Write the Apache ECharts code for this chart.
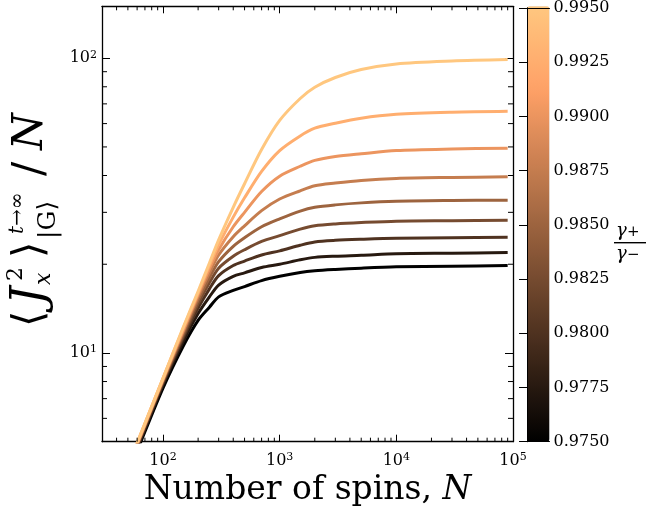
<!DOCTYPE html>
<html><head><meta charset="utf-8">
<script src="https://cdn.jsdelivr.net/npm/echarts@6/dist/echarts.min.js"></script>
<style>html,body{margin:0;padding:0;background:#fff}#c{width:646px;height:518px}</style>
</head><body><div id="c"></div>
<script>
// ---- data ----
const spinCounts = [40, 60, 100, 150, 200, 250, 300, 400, 500, 700, 1000, 1500, 2000, 3000, 5000, 10000, 30000, 90000];
const gammaRatios = [0.9750, 0.9775, 0.9800, 0.9825, 0.9850, 0.9875, 0.9900, 0.9925, 0.9950];
const jx2_09750 = [3.15, 4.65, 7.6, 10.6, 12.9, 14.3, 15.5, 16.3, 16.8, 17.6, 18.2, 18.75, 19.0, 19.2, 19.4, 19.6, 19.7, 19.8];
const jx2_09775 = [3.25, 4.75, 7.8, 11.0, 13.6, 15.5, 17.0, 18.2, 18.7, 19.5, 20.0, 20.7, 21.1, 21.3, 21.45, 21.7, 21.8, 21.9];
const jx2_09800 = [3.28, 4.8, 7.9, 11.3, 14.2, 16.5, 18.3, 19.8, 20.5, 21.5, 22.2, 23.2, 23.8, 24.1, 24.3, 24.5, 24.6, 24.7];
const jx2_09825 = [3.3, 4.85, 8.0, 11.5, 14.7, 17.3, 19.4, 21.3, 22.4, 23.9, 25.0, 26.3, 27.0, 27.4, 27.7, 28.0, 28.1, 28.2];
const jx2_09850 = [3.3, 4.9, 8.05, 11.7, 15.1, 18.0, 20.4, 23.0, 24.6, 26.8, 28.5, 30.3, 31.2, 31.8, 32.3, 32.7, 32.9, 33.0];
const jx2_09875 = [3.3, 4.9, 8.1, 11.9, 15.5, 18.7, 21.5, 24.8, 27.0, 30.4, 33.3, 35.5, 36.9, 37.7, 38.5, 39.1, 39.4, 39.6];
const jx2_09900 = [3.3, 4.9, 8.15, 12.0, 15.8, 19.3, 22.4, 26.8, 30.0, 35.3, 39.8, 43.0, 45.0, 46.4, 47.4, 48.6, 49.2, 49.5];
const jx2_09925 = [3.3, 4.95, 8.2, 12.2, 16.0, 19.8, 23.3, 28.9, 33.6, 41.3, 48.6, 54.5, 57.9, 60.2, 62.6, 64.5, 65.6, 66.1];
const jx2_09950 = [3.3, 4.95, 8.2, 12.3, 16.2, 20.2, 24.2, 31.2, 37.5, 49.0, 61.5, 73.0, 79.7, 86.0, 91.5, 95.6, 97.8, 98.9];
const curves = [jx2_09750, jx2_09775, jx2_09800, jx2_09825, jx2_09850, jx2_09875, jx2_09900, jx2_09925, jx2_09950];
const xMinorTicks = [40, 50, 60, 70, 80, 90, 200, 300, 400, 500, 600, 700, 800, 900,
  2000, 3000, 4000, 5000, 6000, 7000, 8000, 9000, 20000, 30000, 40000, 50000, 60000, 70000, 80000, 90000];
const yMinorTicks = [6, 7, 8, 9, 20, 30, 40, 50, 60, 70, 80, 90];
const colorbarTicks = [0.9750, 0.9775, 0.9800, 0.9825, 0.9850, 0.9875, 0.9900, 0.9925, 0.9950];

// ---- styling helpers ----
const SERIF = '"DejaVu Serif", "DejaVu Sans", serif';
const gMin = colorbarTicks[0], gMax = colorbarTicks[colorbarTicks.length - 1];
function copper(t) {
  t = Math.max(0, Math.min(1, t));
  const r = Math.min(1, t / 0.809524), g = 0.7812 * t, b = 0.4975 * t;
  return 'rgb(' + Math.round(r * 255) + ',' + Math.round(g * 255) + ',' + Math.round(b * 255) + ')';
}
const copperStops = [];
for (let i = 0; i <= 40; i++) copperStops.push(copper(i / 40));

function pow10Label(v) {
  const e = Math.log10(v);
  if (Math.abs(e - Math.round(e)) > 1e-6) return '';
  return '{b|10}{s|' + Math.round(e) + '}';
}
const powRich = {
  b: { fontSize: 16, fontFamily: SERIF, color: '#000', lineHeight: 18 },
  s: { fontSize: 11, fontFamily: SERIF, color: '#000', verticalAlign: 'top', lineHeight: 11 }
};

function minorX(params, api) {
  const cs = params.coordSys;
  const x = api.coord([api.value(0), 10])[0];
  const yb = cs.y + cs.height, yt = cs.y;
  return { type: 'group', children: [
    { type: 'line', shape: { x1: x, y1: yb, x2: x, y2: yb - 4 }, style: { stroke: '#000', lineWidth: 1 } },
    { type: 'line', shape: { x1: x, y1: yt, x2: x, y2: yt + 4 }, style: { stroke: '#000', lineWidth: 1 } }
  ] };
}
function minorY(params, api) {
  const cs = params.coordSys;
  const y = api.coord([1000, api.value(1)])[1];
  const xl = cs.x, xr = cs.x + cs.width;
  return { type: 'group', children: [
    { type: 'line', shape: { x1: xl, y1: y, x2: xl + 5, y2: y }, style: { stroke: '#000', lineWidth: 1 } },
    { type: 'line', shape: { x1: xr, y1: y, x2: xr - 5, y2: y }, style: { stroke: '#000', lineWidth: 1 } }
  ] };
}

const frameLine = { show: true, lineStyle: { color: '#000', width: 1.3 } };
const series = curves.map((vals, i) => ({
  type: 'line', name: String(gammaRatios[i]), xAxisIndex: 0, yAxisIndex: 0,
  data: spinCounts.map((n, j) => [n, vals[j]]),
  showSymbol: false, symbol: 'none', clip: true, z: 3 + i,
  smooth: 0.3,
  lineStyle: { color: copper((gammaRatios[i] - gMin) / (gMax - gMin)), width: 3, cap: 'butt', join: 'round' }
}));
series.push({
  type: 'custom', xAxisIndex: 0, yAxisIndex: 0, silent: true, z: 20,
  data: xMinorTicks.map(v => [v, 10]), renderItem: minorX
});
series.push({
  type: 'custom', xAxisIndex: 0, yAxisIndex: 0, silent: true, z: 20,
  data: yMinorTicks.map(v => [1000, v]), renderItem: minorY
});

const option = {
  animation: false,
  backgroundColor: '#fff',
  grid: [
    { left: 102, top: 6.3, right: 133, bottom: 76.3 },
    { left: 527, top: 6.3, width: 22.5, bottom: 76.3 }
  ],
  xAxis: [
    { type: 'log', logBase: 10, gridIndex: 0, position: 'bottom', min: 30, max: 100000,
      axisLine: frameLine, splitLine: { show: false },
      axisTick: { inside: true, length: 7, lineStyle: { color: '#000', width: 1 } },
      axisLabel: { formatter: pow10Label, rich: powRich, margin: 10, showMinLabel: false },
      name: '{r|Number of spins, }{i|N}', nameLocation: 'middle', nameGap: 31,
      nameTextStyle: { rich: {
        r: { fontSize: 33, fontFamily: SERIF, color: '#000' },
        i: { fontSize: 33, fontFamily: SERIF, fontStyle: 'italic', color: '#000' } } } },
    { type: 'log', logBase: 10, gridIndex: 0, position: 'top', min: 30, max: 100000,
      axisLine: frameLine, splitLine: { show: false },
      axisTick: { inside: true, length: 7, lineStyle: { color: '#000', width: 1 } },
      axisLabel: { show: false } },
    { type: 'value', gridIndex: 1, position: 'bottom', min: 0, max: 1, z: 10,
      axisLine: { show: true, lineStyle: { color: '#000', width: 1 } },
      axisTick: { show: false }, axisLabel: { show: false }, splitLine: { show: false } },
    { type: 'value', gridIndex: 1, position: 'top', min: 0, max: 1, z: 10,
      axisLine: { show: true, lineStyle: { color: '#000', width: 1 } },
      axisTick: { show: false }, axisLabel: { show: false }, splitLine: { show: false } }
  ],
  yAxis: [
    { type: 'log', logBase: 10, gridIndex: 0, position: 'left', min: 5, max: 150,
      axisLine: frameLine, splitLine: { show: false },
      axisTick: { inside: true, length: 8, lineStyle: { color: '#000', width: 1 } },
      axisLabel: { formatter: pow10Label, rich: powRich, margin: 5, showMinLabel: false, showMaxLabel: false } },
    { type: 'log', logBase: 10, gridIndex: 0, position: 'right', min: 5, max: 150,
      axisLine: frameLine, splitLine: { show: false },
      axisTick: { inside: true, length: 8, lineStyle: { color: '#000', width: 1 } },
      axisLabel: { show: false } },
    { type: 'value', gridIndex: 1, position: 'right', min: gMin, max: gMax, interval: 0.0025, z: 10,
      axisLine: { show: true, lineStyle: { color: '#000', width: 1 } },
      axisTick: { inside: true, length: 8, lineStyle: { color: '#000', width: 1 } },
      axisLabel: { margin: 4, formatter: v => v.toFixed(4), fontSize: 16, fontFamily: SERIF, color: '#000' },
      splitLine: { show: false } },
    { type: 'value', gridIndex: 1, position: 'left', min: gMin, max: gMax, z: 10,
      axisLine: { show: true, lineStyle: { color: '#000', width: 1 } },
      axisTick: { show: false }, axisLabel: { show: false }, splitLine: { show: false } }
  ],
  visualMap: {
    type: 'continuous', min: gMin, max: gMax, seriesIndex: [], orient: 'vertical',
    left: 527, top: 6.3, itemWidth: 22.5, itemHeight: 435.4, padding: 0,
    calculable: false, hoverLink: false, realtime: false, text: null, showLabel: false,
    inRange: { color: copperStops }, z: 4
  },
  graphic: [
    { type: 'group', x: 47, y: 327, rotation: Math.PI / 2, silent: true, children: [
      { type: 'text', x: 0, y: -16, style: { text: '\u27E8', font: '42px ' + SERIF, fill: '#000', verticalAlign: 'middle' } },
      { type: 'text', x: 22, y: -16, style: { text: 'J', font: 'italic 46px ' + SERIF, fill: '#000', verticalAlign: 'middle' } },
      { type: 'text', x: 46, y: -31, style: { text: '2', font: '22px ' + SERIF, fill: '#000', verticalAlign: 'middle' } },
      { type: 'text', x: 42, y: -3, style: { text: 'x', font: 'italic 22px ' + SERIF, fill: '#000', verticalAlign: 'middle' } },
      { type: 'text', x: 69, y: -16, style: { text: '\u27E9', font: '42px ' + SERIF, fill: '#000', verticalAlign: 'middle' } },
      { type: 'text', x: 93, y: -29, style: { text: '{i|t}{n|\u2192\u221E}', font: '20px ' + SERIF, fill: '#000', verticalAlign: 'middle',
        rich: { i: { fontStyle: 'italic', fontSize: 20, fontFamily: SERIF }, n: { fontSize: 20, fontFamily: SERIF } } } },
      { type: 'text', x: 88, y: 1, style: { text: '|G\u27E9', font: '25px ' + SERIF, fill: '#000', verticalAlign: 'middle' } },
      { type: 'text', x: 151, y: -16, style: { text: '/', font: '42px ' + SERIF, fill: '#000', verticalAlign: 'middle' } },
      { type: 'text', x: 177, y: -16, style: { text: 'N', font: 'italic 42px ' + SERIF, fill: '#000', verticalAlign: 'middle' } }
    ] },
    { type: 'group', left: 614, top: 222, silent: true, children: [
      { type: 'text', x: 2, y: 0, style: { text: '\u03B3', font: 'italic 18px ' + SERIF, fill: '#000' } },
      { type: 'text', x: 13, y: 3, style: { text: '+', font: '15px ' + SERIF, fill: '#000' } },
      { type: 'rect', shape: { x: 0, y: 20, width: 32, height: 1.4 }, style: { fill: '#000' } },
      { type: 'text', x: 2, y: 23, style: { text: '\u03B3', font: 'italic 18px ' + SERIF, fill: '#000' } },
      { type: 'text', x: 13, y: 26, style: { text: '\u2212', font: '15px ' + SERIF, fill: '#000' } }
    ] }
  ],
  series: series
};
const chart = echarts.init(document.getElementById('c'));
chart.setOption(option);
</script></body></html>
